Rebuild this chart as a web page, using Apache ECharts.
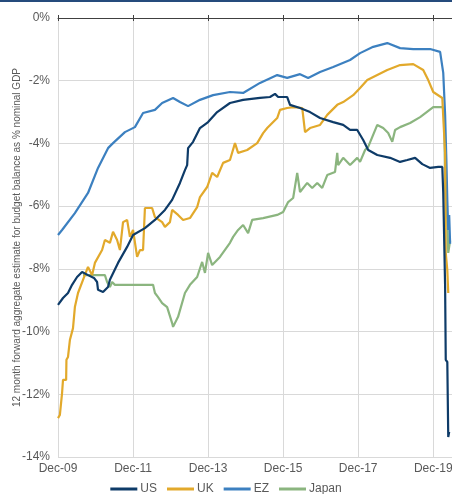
<!DOCTYPE html>
<html>
<head>
<meta charset="utf-8">
<script src="https://cdn.jsdelivr.net/npm/echarts@6/dist/echarts.min.js"></script>
<style>
html,body{margin:0;padding:0;background:#fff;}
#chart{width:452px;height:494px;}
</style>
</head>
<body>
<div id="chart"></div>
<script>
// x = months since Dec-2009, y = % of nominal GDP
const xTickLabels = ['Dec-09','Dec-11','Dec-13','Dec-15','Dec-17','Dec-19'];
const seriesNames = ['US','UK','EZ','Japan'];

const usData = [
[0,-9.15],[1.6,-8.93],[3.2,-8.77],[4.5,-8.51],[6.1,-8.26],[7.7,-8.10],[9.6,-8.20],[11.5,-8.29],[12.5,-8.42],[12.8,-8.67],
[14.4,-8.74],[16,-8.58],[16.6,-8.35],[19.2,-7.81],[22.1,-7.30],[24,-6.92],[27.8,-6.70],[31,-6.44],[34.2,-6.12],[36.5,-5.80],
[39,-5.26],[40.6,-4.85],[41.3,-4.69],[41.6,-4.15],[43.2,-3.95],[45.4,-3.51],[48,-3.32],[50.9,-3.00],[55,-2.71],[59.2,-2.61],
[64.6,-2.55],[67.8,-2.52],[69.4,-2.42],[70.4,-2.52],[73.3,-2.52],[74.2,-2.77],[77.4,-2.87],[80.6,-3.00],[83.8,-3.19],[88,-3.32],
[91.2,-3.41],[93.4,-3.57],[95.7,-3.57],[97.6,-3.89],[99.2,-4.21],[102.1,-4.37],[106.2,-4.46],[109.4,-4.59],[111.7,-4.53],[114.2,-4.46],
[116.5,-4.66],[119,-4.78],[121.6,-4.75],[122.9,-4.75],[123.2,-5.58],[123.8,-8.58],[124,-10.9],[124.5,-10.97],[124.8,-13.36],[125.1,-13.2]
];
const ukData = [
[0,-12.76],[0.6,-12.66],[1.3,-11.96],[1.6,-11.54],[2.6,-11.54],[2.7,-10.9],[3.2,-10.81],[3.8,-10.27],[4.8,-9.89],[5.4,-9.22],
[6.4,-8.77],[8,-8.35],[9.6,-7.94],[10.9,-8.20],[11.8,-7.81],[14.1,-7.40],[15,-7.08],[16.6,-7.17],[17.6,-6.82],[18.9,-7.08],
[19.8,-7.40],[20.8,-6.51],[22.1,-6.44],[23,-6.98],[24,-6.76],[25.3,-7.62],[26.2,-7.40],[27.2,-7.40],[27.8,-6.06],[30.1,-6.06],
[31,-6.35],[33.3,-6.51],[34.2,-6.66],[35.8,-6.51],[36.5,-6.12],[38.4,-6.28],[40,-6.44],[42.2,-6.38],[44.5,-6.03],[45.4,-5.71],
[47.7,-5.39],[49.3,-4.94],[50.9,-5.07],[52.8,-4.62],[55,-4.53],[56.6,-3.99],[57.6,-4.30],[60.5,-4.21],[63.7,-3.99],[65.6,-3.67],
[66.9,-3.51],[70.1,-3.19],[71,-2.93],[73.3,-2.87],[75.2,-2.84],[78.1,-2.87],[79,-3.64],[80.6,-3.51],[83.8,-3.41],[86.1,-3.09],
[89.3,-2.77],[91.2,-2.68],[94.4,-2.46],[96.6,-2.23],[98.9,-1.98],[102.1,-1.82],[105.3,-1.66],[109.4,-1.50],[113.6,-1.47],[116.8,-1.66],
[118.4,-1.98],[120,-2.36],[122.9,-2.55],[123.2,-3.16],[123.8,-4.30],[124,-7.49],[124.5,-8.04],[124.8,-8.77]
];
const ezData = [
[0,-6.92],[1.3,-6.76],[5.4,-6.22],[9.6,-5.58],[12.8,-4.78],[16,-4.15],[17.6,-3.99],[21.4,-3.64],[24.6,-3.48],[27.2,-3.03],
[31,-2.93],[33.3,-2.71],[36.8,-2.55],[39,-2.68],[41.6,-2.81],[45.4,-2.61],[49.6,-2.46],[55,-2.36],[59.2,-2.39],[64.6,-2.07],
[70.1,-1.82],[73.3,-1.91],[77.4,-1.79],[80,-1.91],[83.8,-1.72],[88,-1.56],[93.4,-1.34],[96.6,-1.12],[100.8,-0.92],[105.3,-0.80],
[109.4,-0.96],[113.6,-0.99],[119,-0.99],[122.2,-1.08],[123.2,-1.75],[123.8,-3.09],[124.2,-4.53],[124.5,-5.80],[124.8,-6.76],[125.1,-6.28],[125.4,-7.2]
];
const japanData = [
[8,-8.20],[15,-8.20],[15.7,-8.42],[16.6,-8.58],[17.3,-8.42],[18.2,-8.51],[30.4,-8.51],[31,-8.77],[32,-8.90],[33.3,-9.09],
[34.9,-9.22],[36.5,-9.73],[36.8,-9.85],[38.4,-9.53],[39,-9.47],[40.6,-8.77],[42.2,-8.51],[44.5,-8.26],[46.1,-7.78],[47,-8.13],
[48,-7.49],[49.3,-7.88],[51.8,-7.62],[55,-7.17],[56,-6.98],[57.6,-6.76],[59.2,-6.60],[60.8,-6.86],[62.1,-6.44],[65.6,-6.38],
[70.1,-6.28],[72,-6.19],[73.6,-5.87],[75.2,-5.74],[76.5,-4.94],[77.4,-5.55],[79.7,-5.26],[81.3,-5.42],[82.9,-5.26],[84.5,-5.42],
[86.1,-5.01],[88.6,-4.91],[89.3,-4.30],[89.6,-4.69],[91.2,-4.46],[93.4,-4.69],[95.7,-4.46],[96.6,-4.59],[98.2,-4.21],[99.2,-4.11],
[102.1,-3.41],[104,-3.51],[105.6,-3.67],[106.9,-3.95],[107.8,-3.57],[109.4,-3.48],[112.6,-3.35],[115.8,-3.16],[120,-2.84],[122.9,-2.84],
[123.5,-2.93],[123.8,-5.39],[124.5,-6.44],[124.8,-7.49],[125.4,-7.1]
];
const seriesData = [usData, ukData, ezData, japanData];
const seriesColors = ['#0e3b68','#e2a92b','#3c80c0','#8bb57f'];

const chart = echarts.init(document.getElementById('chart'), null, {renderer:'canvas'});
const font = 'Liberation Sans, Arial, sans-serif';
const labelFmt = v => (Math.round(v) % 24 === 0 && v <= 120) ? xTickLabels[Math.round(v)/24] : '';

chart.setOption({
  animation: false,
  backgroundColor: '#fff',
  textStyle: {fontFamily: font},
  graphic: [{type:'rect', shape:{x:0,y:0,width:452,height:2}, style:{fill:'#254b7c'}}],
  grid: {left: 58, right: 0, top: 18, bottom: 37, containLabel: false, outerBoundsMode: 'none'},
  legend: {
    data: seriesNames, left: 'center', top: 478,
    icon: 'rect', itemWidth: 27, itemHeight: 3, itemGap: 10,
    textStyle: {color: '#595959', fontSize: 12, fontFamily: font, padding:[0,0,0,-2]}
  },
  xAxis: [
    {type:'value', min:0, max:126, interval:24, position:'bottom',
     axisLine:{show:false}, axisTick:{show:false},
     axisLabel:{color:'#595959', fontSize:12, fontFamily:font, margin:6, formatter:labelFmt, showMaxLabel:false},
     splitLine:{show:true, lineStyle:{color:'#d9d9d9', width:1}}},
    {type:'value', min:0, max:126, interval:24, position:'top',
     axisLine:{show:true, onZero:false, lineStyle:{color:'#404040', width:1}},
     axisTick:{show:true, length:3, lineStyle:{color:'#404040'}},
     axisLabel:{show:false}, splitLine:{show:false}},
    {type:'value', min:0, max:126, interval:24, position:'top',
     axisLine:{show:false},
     axisTick:{show:true, inside:true, length:3, lineStyle:{color:'#404040'}},
     axisLabel:{show:false}, splitLine:{show:false}}
  ],
  yAxis: {
    type:'value', min:-14, max:0, interval:2,
    name:'12 month forward aggregate estimate for budget balance as % nominal GDP',
    nameLocation:'middle', nameGap:36, nameRotate:90, nameMoveOverlap:false,
    nameTextStyle:{color:'#595959', fontSize:10, fontFamily:font},
    axisLine:{show:true, lineStyle:{color:'#d9d9d9'}},
    axisTick:{show:false},
    axisLabel:{color:'#595959', fontSize:12, fontFamily:font, margin:8, formatter:'{value}%'},
    splitLine:{show:true, lineStyle:{color:'#d9d9d9', width:1}}
  },
  series: seriesNames.map((n,i)=>({
    name:n, type:'line', data:seriesData[i], xAxisIndex:0,
    showSymbol:false, symbol:'none',
    lineStyle:{color:seriesColors[i], width:2.2},
    itemStyle:{color:seriesColors[i]},
    z: [4,3,2,1][i]
  }))
});
</script>
</body>
</html>
